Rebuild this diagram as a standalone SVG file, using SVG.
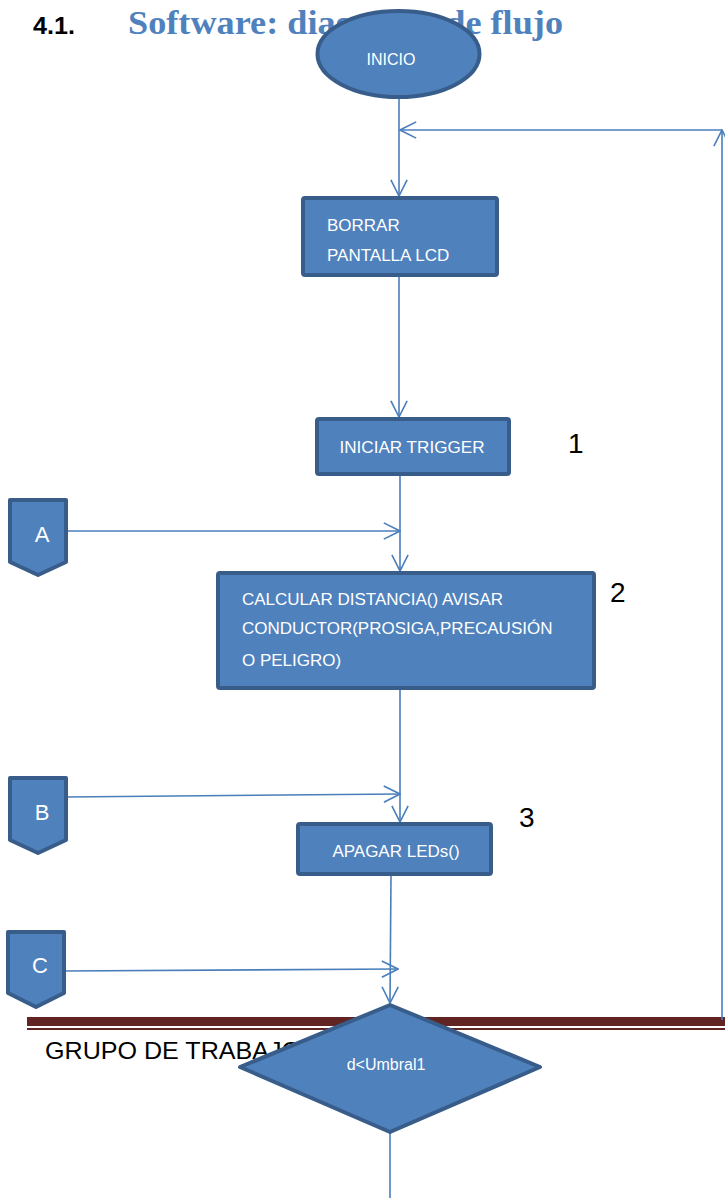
<svg xmlns="http://www.w3.org/2000/svg" width="725" height="1198" viewBox="0 0 725 1198">
<style>
.shape{fill:#4F81BD;stroke:#385D8A;stroke-width:4;stroke-linejoin:round}
.wt{fill:#FFFFFF;font-family:"Liberation Sans",Arial,sans-serif;font-size:17px}
.big{font-size:22px}
.mid{font-size:16px}
.num{fill:#000000;font-family:"Liberation Sans",Arial,sans-serif;font-size:28px}
.conn{fill:none;stroke:#4A7EBB;stroke-width:1.6}
</style>
<defs>
<marker id="ah" viewBox="0 0 20 20" refX="19" refY="10" markerWidth="18" markerHeight="18" markerUnits="userSpaceOnUse" orient="auto">
<path d="M1,1 L19,10 L1,19" fill="none" stroke="#4A7EBB" stroke-width="1.8"/>
</marker>
</defs>
<rect width="725" height="1198" fill="#FFFFFF"/>
<g id="title">
<text x="33" y="34" font-family="Liberation Sans,Arial,sans-serif" font-weight="bold" font-size="23" fill="#000000" textLength="42" lengthAdjust="spacingAndGlyphs">4.1.</text>
<text x="128" y="34" font-family="Liberation Serif,serif" font-weight="bold" font-size="33" fill="#4F81BD" textLength="435" lengthAdjust="spacingAndGlyphs">Software: diagrama de flujo</text>
</g>
<g id="footer">
<rect x="27" y="1017" width="698" height="9" fill="#622423"/>
<rect x="27" y="1028" width="698" height="2" fill="#622423"/>
<text x="45" y="1059" font-family="Liberation Sans,Arial,sans-serif" font-size="24" fill="#000000" textLength="256" lengthAdjust="spacingAndGlyphs">GRUPO DE TRABAJO</text>
</g>
<g id="connectors">
<line class="conn" x1="399" y1="98" x2="399" y2="196" marker-end="url(#ah)"/>
<line class="conn" x1="722" y1="1020" x2="722" y2="130" marker-end="url(#ah)"/>
<line class="conn" x1="722" y1="130" x2="400" y2="130" marker-end="url(#ah)"/>
<line class="conn" x1="399" y1="276" x2="399" y2="417" marker-end="url(#ah)"/>
<line class="conn" x1="400" y1="475" x2="400" y2="571" marker-end="url(#ah)"/>
<line class="conn" x1="66" y1="531" x2="400" y2="531" marker-end="url(#ah)"/>
<line class="conn" x1="400" y1="689" x2="400" y2="822" marker-end="url(#ah)"/>
<line class="conn" x1="66" y1="797" x2="400" y2="794" marker-end="url(#ah)"/>
<line class="conn" x1="391" y1="875" x2="390" y2="1003" marker-end="url(#ah)"/>
<line class="conn" x1="64" y1="971" x2="398" y2="969" marker-end="url(#ah)"/>
<line class="conn" x1="390" y1="1132" x2="390" y2="1198"/>
</g>
<g id="inicio">
<ellipse class="shape" cx="398.5" cy="54" rx="81" ry="43"/>
<text class="wt mid" x="391" y="65" text-anchor="middle">INICIO</text>
</g>
<g id="borrar">
<rect class="shape" x="303" y="198" width="194" height="77" rx="2"/>
<text class="wt" x="327" y="231">BORRAR</text>
<text class="wt" x="327" y="261">PANTALLA LCD</text>
</g>
<g id="trigger">
<rect class="shape" x="317" y="419" width="192" height="55" rx="2"/>
<text class="wt" x="412" y="453" text-anchor="middle" textLength="145" lengthAdjust="spacingAndGlyphs">INICIAR TRIGGER</text>
</g>
<text class="num" x="568" y="453">1</text>
<g id="connA">
<path class="shape" d="M10,500 L66,500 L66,562 L38,575 L10,562 Z"/>
<text class="wt big" x="42" y="542" text-anchor="middle">A</text>
</g>
<g id="calcular">
<rect class="shape" x="218" y="573" width="376" height="115" rx="2"/>
<text class="wt" x="242" y="605">CALCULAR DISTANCIA() AVISAR</text>
<text class="wt" x="242" y="634">CONDUCTOR(PROSIGA,PRECAUSIÓN</text>
<text class="wt" x="242" y="666">O PELIGRO)</text>
</g>
<text class="num" x="610" y="602">2</text>
<g id="connB">
<path class="shape" d="M10,778 L66,778 L66,840 L38,853 L10,840 Z"/>
<text class="wt big" x="42" y="820" text-anchor="middle">B</text>
</g>
<text class="num" x="519" y="827">3</text>
<g id="apagar">
<rect class="shape" x="298" y="824" width="193" height="50" rx="2"/>
<text class="wt" x="396" y="857" text-anchor="middle">APAGAR LEDs()</text>
</g>
<g id="connC">
<path class="shape" d="M8,932 L64,932 L64,993 L36,1007 L8,993 Z"/>
<text class="wt big" x="40" y="973" text-anchor="middle">C</text>
</g>
<g id="decision">
<path class="shape" d="M390,1005 L540,1067 L390,1132 L240,1067 Z"/>
<text class="wt mid" x="386" y="1070" text-anchor="middle">d&lt;Umbral1</text>
</g>
</svg>
